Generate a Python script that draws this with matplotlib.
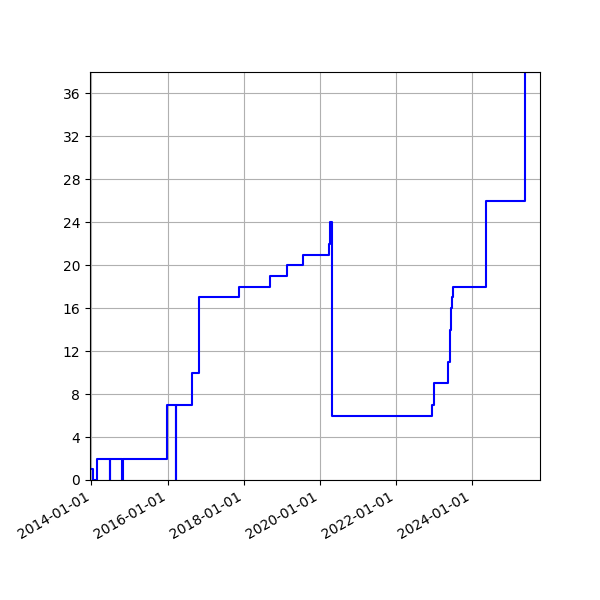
#!/usr/bin/env python3

import pandas as pd
import matplotlib.pyplot as plt
import matplotlib.dates as mdates

# change points of the count (value holds until next date)
dates = [
    '2013-12-18', '2014-01-17', '2014-02-25', '2014-06-30', '2014-07-02',
    '2014-10-25', '2014-11-02', '2015-12-30', '2016-03-24', '2016-03-27',
    '2016-08-22', '2016-10-25', '2017-11-17', '2018-09-13', '2019-02-20',
    '2019-07-29', '2020-04-04', '2020-04-10', '2020-04-13', '2020-04-27',
    '2022-12-16', '2022-12-29', '2023-05-12', '2023-06-07', '2023-06-09',
    '2023-06-13', '2023-06-17', '2023-06-21', '2023-06-25', '2023-06-29',
    '2024-05-11', '2025-05-21', '2025-10-16',
]
counts = [
    1, 0, 2, 0, 2,
    0, 2, 7, 0, 7,
    10, 17, 18, 19, 20,
    21, 22, 23, 24, 6,
    7, 9, 11, 13, 14,
    15, 16, 17, 17, 18,
    26, 38, 38,
]

df = pd.DataFrame({'date': pd.to_datetime(dates), 'count': counts})

fig, ax = plt.subplots(figsize=(6, 6), dpi=100)
fig.subplots_adjust(left=0.15, right=0.9, top=0.88, bottom=0.2)

ax.plot(df['date'], df['count'], color='b', drawstyle='steps-post')
ax.set_xlim(df['date'].min(), df['date'].max())
ax.set_ylim(0, df['count'].max())

ax.xaxis.set_major_locator(mdates.YearLocator(2))
ax.xaxis.set_major_formatter(mdates.DateFormatter('%Y-%m-%d'))
ax.yaxis.set_major_locator(plt.MultipleLocator(4))
ax.grid(True)

for label in ax.get_xticklabels():
    label.set_rotation(30)
    label.set_horizontalalignment('right')

plt.savefig('out.png', dpi=100)
plt.close()
